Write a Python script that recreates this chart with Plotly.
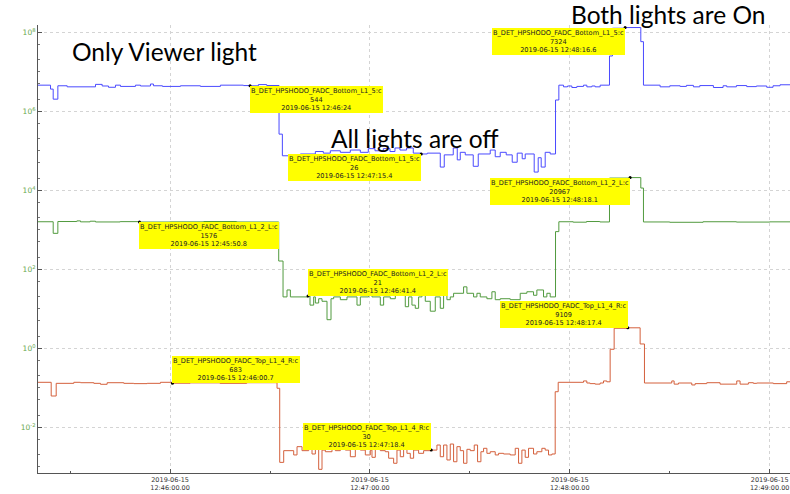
import numpy as np
import pandas as pd
import plotly.graph_objects as go

# Archived samples (seconds after 12:45:00) for three hodoscope FADC channels
T0 = pd.Timestamp("2019-06-15 12:45:00")

BLUE_NAME = "B_DET_HPSHODO_FADC_Bottom_L1_5:c"
GREEN_NAME = "B_DET_HPSHODO_FADC_Bottom_L1_2_L:c"
ORANGE_NAME = "B_DET_HPSHODO_FADC_Top_L1_4_R:c"

BLUE_T = [20.0, 24.1, 24.9, 26.3, 29.1, 37.6, 39.6, 41.5, 43.6, 45.1, 49.6, 51.1, 54.1, 55.0,
          57.7, 63.1, 69.1, 75.1, 82.0, 84.0, 86.5, 89.0, 92.7, 93.7, 96.1, 99.1, 103.6, 106.0,
          108.1, 111.1, 114.1, 117.1, 119.5, 121.5, 124.0, 126.0, 127.5, 129.0, 131.0, 133.0,
          135.4, 137.2, 141.1, 142.3, 145.0, 146.2, 147.1, 148.6, 151.0, 152.5, 156.1, 157.6,
          159.1, 160.9, 162.7, 164.2, 165.7, 166.6, 169.3, 170.5, 171.4, 172.6, 174.1, 175.7,
          176.7, 178.1, 179.3, 180.6, 182.1, 184.1, 185.1, 186.6, 187.6, 189.1, 191.9, 192.8,
          196.6, 201.3, 202.1, 207.1, 210.0, 213.1, 215.0, 217.1, 219.0, 223.1, 226.0, 227.1,
          230.0, 233.1, 236.0, 239.1, 241.0, 243.1, 247.0]
BLUE_V = [560, 470, 300, 545, 520, 580, 540, 510, 560, 530, 560, 540, 590, 545,
          530, 545, 530, 560, 550, 544, 575, 552, 63, 24, 25, 26, 29, 27,
          30, 28, 31, 28, 33, 30, 33, 29, 34, 31, 34, 27,
          26, 27, 14.5, 25, 34, 20, 28, 25, 15, 26, 31, 23,
          28, 25, 18, 27, 21, 26, 11.6, 22, 14.5, 28, 26, 289,
          560, 520, 540, 505, 530, 560, 520, 540, 520, 560, 2060, 7100,
          7324, 3900, 560, 520, 545, 530, 555, 520, 550, 505, 545, 520,
          550, 525, 540, 510, 545, 570, 580]

GREEN_T = [20.0, 24.9, 26.3, 32.0, 33.1, 36.0, 37.6, 45.0, 50.8, 60.0, 70.0, 80.0, 92.6, 93.9,
           95.1, 96.1, 101.4, 102.0, 103.1, 103.6, 104.6, 105.6, 107.1, 108.3, 109.1, 111.1,
           113.1, 116.1, 117.1, 119.6, 120.6, 123.1, 124.1, 126.1, 127.6, 130.6, 131.6, 132.6,
           133.6, 134.6, 135.6, 136.6, 138.1, 139.6, 141.1, 142.1, 143.1, 144.1, 145.1, 148.1,
           149.1, 151.1, 152.1, 153.1, 155.1, 156.6, 157.6, 159.1, 162.1, 165.1, 167.1, 169.1,
           170.1, 172.1, 173.1, 174.1, 175.7, 176.7, 181.0, 185.0, 189.0, 191.9, 198.1, 201.3,
           202.1, 210.0, 220.0, 230.0, 240.0, 247.0]
GREEN_V = [1600, 814, 1620, 1680, 1590, 1650, 1580, 1610, 1576, 1590, 1620, 1580, 162, 20,
           30, 20, 21, 12.4, 20, 14, 18, 15.5, 5.3, 18, 20, 17,
           20, 12.4, 20, 24.7, 20, 12.4, 20, 18, 30, 11.3, 20, 12.4,
           10.3, 20, 24.7, 15.5, 8.7, 20, 10.3, 24.7, 17, 20, 24.7, 36,
           24.7, 20, 24.7, 20, 18, 27, 17, 18, 17, 24.7, 27, 22,
           30, 20, 24.7, 20, 900, 1600, 1560, 1620, 1580, 20400, 20967, 11400,
           1580, 1550, 1600, 1570, 1590, 1580]

ORANGE_T = [20.0, 24.3, 25.8, 31.1, 33.1, 37.1, 39.1, 41.1, 46.1, 49.1, 53.1, 57.1, 60.7, 66.0,
            75.0, 83.0, 92.1, 92.9, 94.1, 97.1, 98.1, 99.6, 101.6, 102.6, 103.6, 104.6, 105.6,
            106.6, 108.6, 109.6, 111.1, 112.6, 114.1, 115.6, 117.1, 118.6, 120.1, 120.6, 121.6,
            123.1, 124.6, 125.6, 127.1, 128.1, 129.1, 130.1, 131.1, 132.1, 133.1, 134.6, 136.1,
            138.4, 140.1, 141.1, 142.1, 143.1, 144.1, 145.1, 146.1, 147.1, 148.1, 149.1, 150.1,
            151.3, 152.3, 153.3, 154.1, 155.1, 156.1, 157.6, 158.6, 160.1, 162.1, 163.6, 164.6,
            165.6, 166.6, 167.6, 169.1, 170.1, 171.6, 172.6, 173.6, 174.6, 175.6, 176.5, 184.1,
            185.1, 186.1, 187.6, 189.1, 190.1, 191.1, 192.1, 193.3, 197.4, 201.1, 202.4, 210.6,
            211.3, 212.6, 216.6, 217.6, 221.1, 225.1, 230.1, 231.1, 233.6, 235.1, 236.1, 241.1,
            245.1, 247.0]
ORANGE_V = [713, 376, 680, 713, 700, 680, 650, 700, 680, 670, 680, 713, 683, 695,
            680, 700, 540, 16.9, 29.2, 23.9, 35.2, 29.2, 31.1, 25, 32.6, 12.2, 30,
            27.8, 35.2, 29.2, 32.6, 30, 22, 32.6, 30, 23.9, 30, 21.4, 31.1,
            29.2, 27.8, 20.5, 16.2, 30, 22, 31.1, 25.8, 20.5, 30, 25.8, 29.2,
            30, 38, 22, 38, 18.9, 39.8, 17.4, 35.2, 29.2, 16.2, 31.1, 29.2,
            38, 17.4, 27.8, 32.6, 25.8, 27.8, 23.9, 25.8, 25, 23.9, 32.6, 16.2,
            30, 21.4, 32.6, 25, 27.8, 32.6, 30, 23.9, 25, 459, 713, 760,
            690, 670, 655, 690, 760, 730, 3340, 8900, 9109, 4280, 690, 760,
            655, 690, 630, 670, 700, 655, 760, 655, 700, 680, 690, 670,
            730, 730]

# Sample times that carry a value box, with box placement relative to the sample
BLUE_LABELS = [(84.0, "left", "top"), (135.4, "right", "top"), (196.6, "right", "top")]
GREEN_LABELS = [(50.8, "left", "top"), (101.4, "left", "bottom"), (198.1, "right", "top")]
ORANGE_LABELS = [(60.7, "left", "bottom"), (138.4, "right", "bottom"), (197.4, "right", "bottom")]

NOTES = [("Only Viewer light", 70, 52), ("All lights are off", 329, 138), ("Both lights are On", 569, 15)]

BLUE = "#4a4aff"
GREEN = "#519a3e"
ORANGE = "#d4603c"

# Plot-area geometry in pixels
W, H = 790, 494
ML, MR, MT, MB = 38, 0, 25, 21


def to_time(sec):
    return T0 + pd.to_timedelta(sec, unit="s")


def stamp(sec):
    t = to_time(sec)
    frac = round(sec - np.floor(sec), 1)
    base = t.strftime("%Y-%m-%d %H:%M:%S")
    if frac > 0:
        base += "." + str(int(round(frac * 10)))
    return base


fig = go.Figure()

series = [
    (BLUE_NAME, BLUE_T, BLUE_V, BLUE, "y2", BLUE_LABELS),
    (GREEN_NAME, GREEN_T, GREEN_V, GREEN, "y", GREEN_LABELS),
    (ORANGE_NAME, ORANGE_T, ORANGE_V, ORANGE, "y3", ORANGE_LABELS),
]

annotations = []
for name, ts, vs, color, yax, labels in series:
    fig.add_trace(go.Scatter(
        x=[to_time(s) for s in ts], y=vs, mode="lines", name=name,
        line=dict(color=color, width=1, shape="hv"), yaxis=yax, showlegend=False,
    ))
    lx, ly = [], []
    for sec, xa, ya in labels:
        val = vs[ts.index(sec)]
        lx.append(to_time(sec))
        ly.append(val)
        annotations.append(dict(
            x=to_time(sec), y=np.log10(val), xref="x", yref=yax,
            xanchor=xa, yanchor=ya, showarrow=False,
            text=f"{name}<br>{val:g}<br>{stamp(sec)}",
            bgcolor="#ffff00", borderpad=1, borderwidth=0,
            font=dict(family="DejaVu Sans", size=6.6, color="#222222"),
        ))
    fig.add_trace(go.Scatter(
        x=lx, y=ly, mode="markers", yaxis=yax, showlegend=False,
        marker=dict(color="black", size=3),
    ))

pw, ph = W - ML - MR, H - MT - MB
for text, px, py in NOTES:
    annotations.append(dict(
        x=(px - ML) / pw, y=(H - MB - py) / ph, xref="paper", yref="paper",
        xanchor="left", yanchor="middle", showarrow=False, text=text,
        font=dict(family="Lato", size=24.5, color="black"),
    ))

major = [1e-2, 1, 1e2, 1e4, 1e6, 1e8]
major_text = ["10<sup>-2</sup>", "10<sup>0</sup>", "10<sup>2</sup>", "10<sup>4</sup>",
              "10<sup>6</sup>", "10<sup>8</sup>"]

fig.update_layout(
    width=W, height=H,
    margin=dict(l=ML, r=MR, t=MT, b=MB),
    paper_bgcolor="white", plot_bgcolor="white",
    annotations=annotations,
    xaxis=dict(
        type="date",
        range=[to_time(20.34), to_time(246.09)],
        tick0="2019-06-15 12:46:00", dtick=60000,
        tickformat="%Y-%m-%d<br>%H:%M:%S.00",
        ticks="inside", ticklen=4, tickcolor="#555",
        minor=dict(dtick=30000, ticks="inside", ticklen=2, tickcolor="#555", showgrid=False),
        showgrid=True, gridcolor="#d4d4d4", griddash="dot", gridwidth=1,
        showline=True, linecolor="#555", linewidth=1,
        tickfont=dict(family="DejaVu Sans", size=6.5, color="#333"),
        zeroline=False,
    ),
    yaxis=dict(
        type="log", range=[-3.157, 8.185],
        tickmode="array", tickvals=major, ticktext=major_text,
        ticks="inside", ticklen=4, tickcolor="#555",
        minor=dict(dtick="D2", ticks="inside", ticklen=2, tickcolor="#777", showgrid=False),
        showgrid=True, gridcolor="#d4d4d4", griddash="dot", gridwidth=1,
        showline=True, linecolor="#555", linewidth=1,
        tickfont=dict(family="DejaVu Sans", size=7.5, color="#6aa84f"),
        zeroline=False,
    ),
    yaxis2=dict(type="log", range=[-4.766, 3.914], overlaying="y", visible=False),
    yaxis3=dict(type="log", range=[1.012, 10.107], overlaying="y", visible=False),
)

fig.write_html("out.html")
